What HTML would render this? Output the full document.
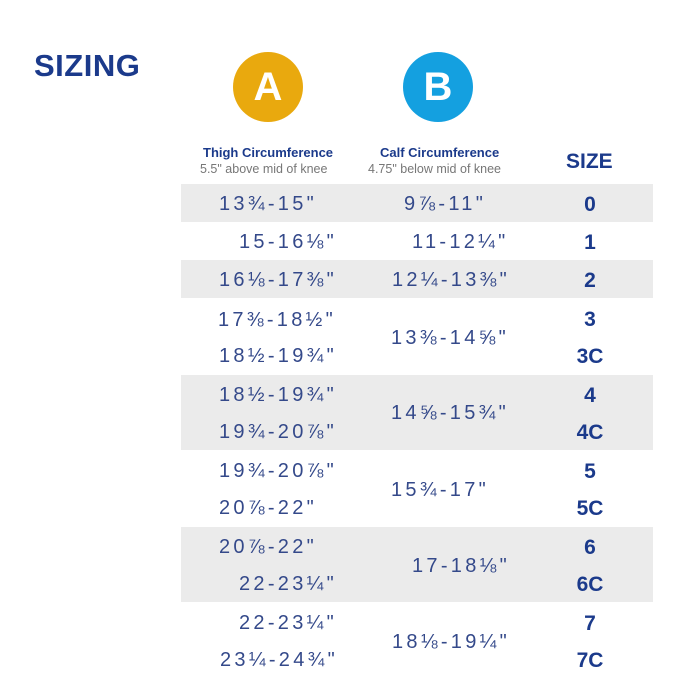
<!DOCTYPE html>
<html><head><meta charset="utf-8"><style>
body{margin:0;width:700px;height:700px;background:#fff;position:relative;overflow:hidden;font-family:"Liberation Sans","DejaVu Sans",sans-serif}
.a{position:absolute;white-space:nowrap}
.g{position:absolute;left:181px;width:472px;background:#ebebeb}
.v{position:absolute;white-space:nowrap;font-size:20px;color:#34498a;letter-spacing:3.3px;line-height:24px;transform:translateY(-12px)}
.s{position:absolute;left:550px;width:80px;text-align:center;font-size:21px;font-weight:bold;color:#1b3a8b;line-height:24px;transform:translateY(-12px)}
.c{position:absolute;width:70px;height:70px;border-radius:50%;color:#fff;font-weight:bold;font-size:40px;text-align:center;line-height:70px}
</style></head><body>
<div class="a" style="left:34px;top:48px;font-size:31px;font-weight:bold;color:#1b3a8b;letter-spacing:0.5px">SIZING</div>
<div class="c" style="left:233px;top:52px;background:#e9a90e">A</div>
<div class="c" style="left:403px;top:52px;background:#14a0e0">B</div>
<div class="a" style="left:203px;top:145px;font-size:13px;font-weight:bold;color:#1b3a8b">Thigh Circumference</div>
<div class="a" style="left:200px;top:162px;font-size:12.5px;color:#777">5.5" above mid of knee</div>
<div class="a" style="left:380px;top:145px;font-size:13px;font-weight:bold;color:#1b3a8b">Calf Circumference</div>
<div class="a" style="left:368px;top:162px;font-size:12.5px;color:#777">4.75" below mid of knee</div>
<div class="a" style="left:566px;top:150px;font-size:21px;font-weight:bold;color:#1b3a8b">SIZE</div>
<div class="g" style="top:184px;height:38px"></div>
<div class="g" style="top:260px;height:38px"></div>
<div class="g" style="top:375px;height:75px"></div>
<div class="g" style="top:527px;height:75px"></div>
<div class="v" style="left:219px;top:204px">13¾-15"</div>
<div class="v" style="left:239px;top:242px">15-16⅛"</div>
<div class="v" style="left:219px;top:280px">16⅛-17⅜"</div>
<div class="v" style="left:218px;top:320px">17⅜-18½"</div>
<div class="v" style="left:219px;top:356px">18½-19¾"</div>
<div class="v" style="left:219px;top:395px">18½-19¾"</div>
<div class="v" style="left:219px;top:432px">19¾-20⅞"</div>
<div class="v" style="left:219px;top:471px">19¾-20⅞"</div>
<div class="v" style="left:219px;top:508px">20⅞-22"</div>
<div class="v" style="left:219px;top:547px">20⅞-22"</div>
<div class="v" style="left:239px;top:584px">22-23¼"</div>
<div class="v" style="left:239px;top:623px">22-23¼"</div>
<div class="v" style="left:220px;top:660px">23¼-24¾"</div>
<div class="v" style="left:404px;top:204px">9⅞-11"</div>
<div class="v" style="left:412px;top:242px">11-12¼"</div>
<div class="v" style="left:392px;top:280px">12¼-13⅜"</div>
<div class="v" style="left:391px;top:338px">13⅜-14⅝"</div>
<div class="v" style="left:391px;top:413px">14⅝-15¾"</div>
<div class="v" style="left:391px;top:490px">15¾-17"</div>
<div class="v" style="left:412px;top:566px">17-18⅛"</div>
<div class="v" style="left:392px;top:642px">18⅛-19¼"</div>
<div class="s" style="top:205px">0</div>
<div class="s" style="top:243px">1</div>
<div class="s" style="top:281px">2</div>
<div class="s" style="top:320px">3</div>
<div class="s" style="top:357px">3C</div>
<div class="s" style="top:396px">4</div>
<div class="s" style="top:433px">4C</div>
<div class="s" style="top:472px">5</div>
<div class="s" style="top:509px">5C</div>
<div class="s" style="top:548px">6</div>
<div class="s" style="top:585px">6C</div>
<div class="s" style="top:624px">7</div>
<div class="s" style="top:661px">7C</div>
</body></html>
